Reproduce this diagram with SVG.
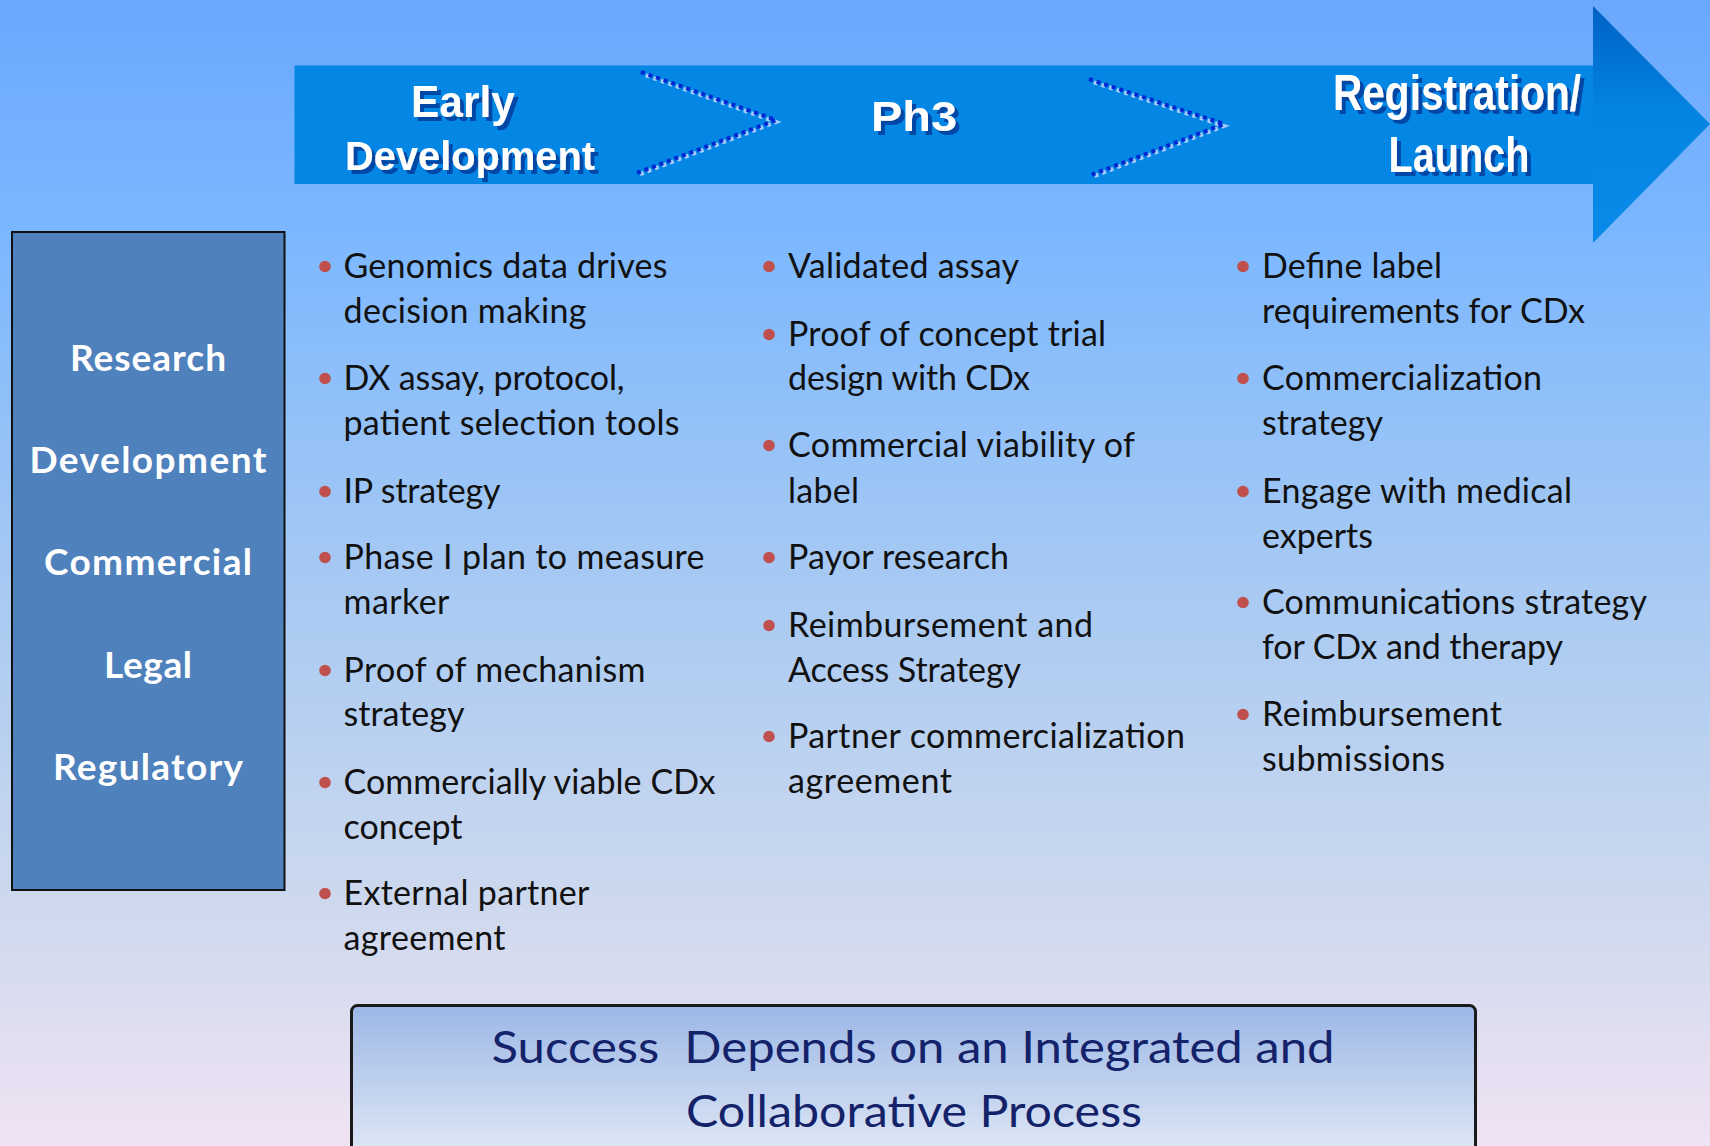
<svg xmlns="http://www.w3.org/2000/svg" width="1710" height="1146" viewBox="0 0 1710 1146">
  <defs>
    <linearGradient id="bg" x1="0" y1="0" x2="0" y2="1">
      <stop offset="0" stop-color="#6AA8FF"/>
      <stop offset="0.2" stop-color="#7BB7FF"/>
      <stop offset="0.5" stop-color="#A6C9F3"/>
      <stop offset="0.78" stop-color="#CCD8EE"/>
      <stop offset="1" stop-color="#F0E3F3"/>
    </linearGradient>
    <linearGradient id="head" x1="0" y1="0" x2="0" y2="1">
      <stop offset="0" stop-color="#0062C6"/>
      <stop offset="0.45" stop-color="#0384E2"/>
      <stop offset="1" stop-color="#0A8BEA"/>
    </linearGradient>
    <linearGradient id="foot" x1="0" y1="0" x2="0" y2="1">
      <stop offset="0" stop-color="#9CB7E6"/>
      <stop offset="1" stop-color="#E4EBF7"/>
    </linearGradient>
    <filter id="shadow" x="-10%" y="-20%" width="130%" height="150%">
      <feOffset in="SourceAlpha" dx="4" dy="4" result="off"/>
      <feFlood flood-color="#0046A6"/>
      <feComposite in2="off" operator="in" result="sh"/>
      <feMerge>
        <feMergeNode in="sh"/>
        <feMergeNode in="SourceGraphic"/>
      </feMerge>
    </filter>
    <style>
      .hd{font-family:"Liberation Sans",Arial,sans-serif;font-weight:bold;text-anchor:middle;fill:#FFFFFF;filter:url(#shadow)}
      .lab{font-family:Lato,"Open Sans",sans-serif;font-weight:bold;font-size:37px;fill:#FFFFFF;text-anchor:middle}
      .bt{font-family:Lato,"Open Sans",sans-serif;font-size:34px;fill:#111111}
      .dot{fill:#C0504D}
      .ft{font-family:Lato,"Open Sans",sans-serif;font-size:44px;fill:#14226A;text-anchor:middle}
      .chl{fill:none;stroke:#A6CCFA;stroke-width:4;stroke-dasharray:4 4}
      .chd{fill:none;stroke:#0028D2;stroke-width:4;stroke-dasharray:4 4}
    </style>
  </defs>

  <rect x="0" y="0" width="1710" height="1146" fill="url(#bg)"/>

  <g id="phase-arrow">
    <rect x="294.5" y="65.5" width="1299" height="118.5" fill="#0386E4"/>
    <polygon points="1593,6 1710,124 1593,243" fill="url(#head)"/>
  </g>

  <g id="connectors">
    <polyline class="chl" points="642,74 776,122 638,175" stroke-dashoffset="4"/>
    <polyline class="chd" points="641,72 776,120 637,173"/>
    <polyline class="chl" points="1090,81 1224,126 1092,177" stroke-dashoffset="4"/>
    <polyline class="chd" points="1089,79 1224,124 1091,175"/>
  </g>

  <g id="phase-early">
    <text class="hd" x="463" y="116.7" font-size="44" textLength="104" lengthAdjust="spacingAndGlyphs">Early</text>
    <text class="hd" x="470" y="170" font-size="40" textLength="250" lengthAdjust="spacingAndGlyphs">Development</text>
  </g>

  <g id="phase-ph3">
    <text class="hd" x="914" y="131" font-size="42" textLength="86" lengthAdjust="spacingAndGlyphs">Ph3</text>
  </g>

  <g id="phase-registration">
    <text class="hd" x="1457" y="110" font-size="50" textLength="248" lengthAdjust="spacingAndGlyphs">Registration/</text>
    <text class="hd" x="1459" y="172" font-size="50" textLength="141" lengthAdjust="spacingAndGlyphs">Launch</text>
  </g>

  <g id="functions-box">
    <rect x="12" y="232" width="272.5" height="658" fill="#4F81BD" stroke="#111111" stroke-width="2"/>
    <text class="lab" x="148" y="370.5" textLength="156">Research</text>
    <text class="lab" x="148" y="472.5" textLength="237">Development</text>
    <text class="lab" x="148" y="575" textLength="208">Commercial</text>
    <text class="lab" x="148" y="677.5" textLength="88">Legal</text>
    <text class="lab" x="148" y="780" textLength="190">Regulatory</text>
  </g>

  <g id="col-early">
    <circle class="dot" cx="325" cy="266.5" r="5.8"/>
    <text class="bt" x="343.5" y="278" textLength="324">Genomics data drives</text>
    <text class="bt" x="343.5" y="323" textLength="243">decision making</text>
    <circle class="dot" cx="325" cy="378.5" r="5.8"/>
    <text class="bt" x="343.5" y="390" textLength="281">DX assay, protocol,</text>
    <text class="bt" x="343.5" y="435" textLength="336">patient selection tools</text>
    <circle class="dot" cx="325" cy="491.5" r="5.8"/>
    <text class="bt" x="343.5" y="503" textLength="157">IP strategy</text>
    <circle class="dot" cx="325" cy="557.5" r="5.8"/>
    <text class="bt" x="343.5" y="569" textLength="361">Phase I plan to measure</text>
    <text class="bt" x="343.5" y="614" textLength="106">marker</text>
    <circle class="dot" cx="325" cy="670.5" r="5.8"/>
    <text class="bt" x="343.5" y="682" textLength="302">Proof of mechanism</text>
    <text class="bt" x="343.5" y="726" textLength="121">strategy</text>
    <circle class="dot" cx="325" cy="782.5" r="5.8"/>
    <text class="bt" x="343.5" y="794" textLength="372">Commercially viable CDx</text>
    <text class="bt" x="343.5" y="839" textLength="119">concept</text>
    <circle class="dot" cx="325" cy="893.5" r="5.8"/>
    <text class="bt" x="343.5" y="905" textLength="246">External partner</text>
    <text class="bt" x="343.5" y="950" textLength="162">agreement</text>
  </g>

  <g id="col-ph3">
    <circle class="dot" cx="769" cy="266.5" r="5.8"/>
    <text class="bt" x="788" y="278" textLength="231">Validated assay</text>
    <circle class="dot" cx="769" cy="334.5" r="5.8"/>
    <text class="bt" x="788" y="346" textLength="318">Proof of concept trial</text>
    <text class="bt" x="788" y="390" textLength="242">design with CDx</text>
    <circle class="dot" cx="769" cy="445.5" r="5.8"/>
    <text class="bt" x="788" y="457" textLength="347">Commercial viability of</text>
    <text class="bt" x="788" y="503" textLength="71">label</text>
    <circle class="dot" cx="769" cy="557.5" r="5.8"/>
    <text class="bt" x="788" y="569" textLength="221">Payor research</text>
    <circle class="dot" cx="769" cy="625.5" r="5.8"/>
    <text class="bt" x="788" y="637" textLength="305">Reimbursement and</text>
    <text class="bt" x="788" y="682" textLength="233">Access Strategy</text>
    <circle class="dot" cx="769" cy="736.5" r="5.8"/>
    <text class="bt" x="788" y="748" textLength="397">Partner commercialization</text>
    <text class="bt" x="788" y="793" textLength="164">agreement</text>
  </g>

  <g id="col-registration">
    <circle class="dot" cx="1243" cy="266.5" r="5.8"/>
    <text class="bt" x="1262" y="278" textLength="180">Define label</text>
    <text class="bt" x="1262" y="323" textLength="323">requirements for CDx</text>
    <circle class="dot" cx="1243" cy="378.5" r="5.8"/>
    <text class="bt" x="1262" y="390" textLength="280">Commercialization</text>
    <text class="bt" x="1262" y="435" textLength="121">strategy</text>
    <circle class="dot" cx="1243" cy="491.5" r="5.8"/>
    <text class="bt" x="1262" y="503" textLength="310">Engage with medical</text>
    <text class="bt" x="1262" y="547.5" textLength="111">experts</text>
    <circle class="dot" cx="1243" cy="602.5" r="5.8"/>
    <text class="bt" x="1262" y="614" textLength="385">Communications strategy</text>
    <text class="bt" x="1262" y="659" textLength="301">for CDx and therapy</text>
    <circle class="dot" cx="1243" cy="714.5" r="5.8"/>
    <text class="bt" x="1262" y="726" textLength="240">Reimbursement</text>
    <text class="bt" x="1262" y="771" textLength="183">submissions</text>
  </g>

  <g id="success-box">
    <rect x="351.5" y="1005.5" width="1124" height="160" rx="6" ry="6" fill="url(#foot)" stroke="#1A1A1A" stroke-width="3"/>
    <text class="ft" x="913" y="1062.5" textLength="843" lengthAdjust="spacingAndGlyphs" xml:space="preserve">Success  Depends on an Integrated and</text>
    <text class="ft" x="914" y="1127" textLength="456" lengthAdjust="spacingAndGlyphs">Collaborative Process</text>
  </g>
</svg>
